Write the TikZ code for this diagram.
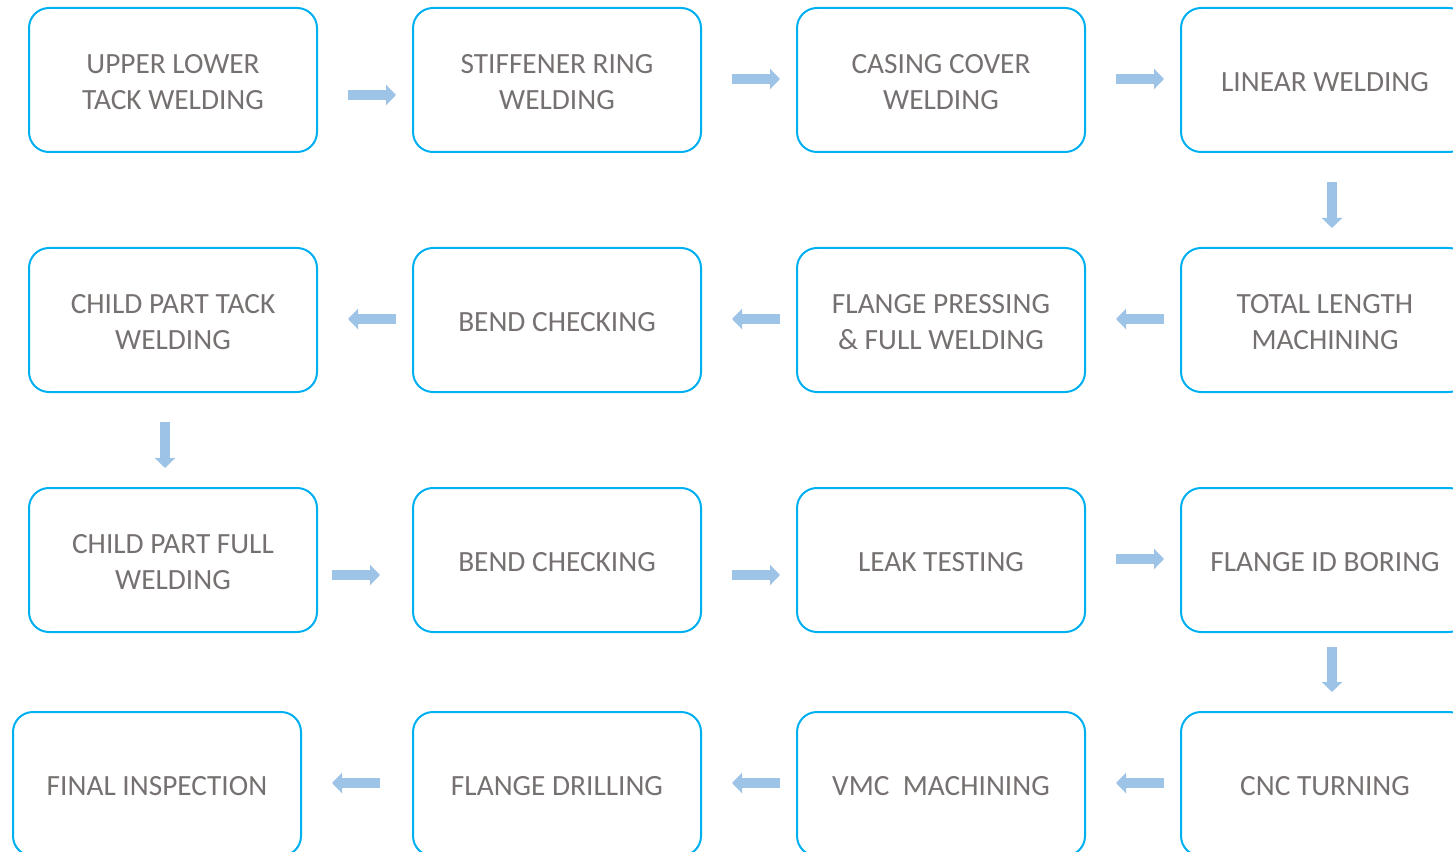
\documentclass[tikz,border=0pt]{standalone}
\usepackage{fontspec}
\setmainfont{Carlito}
\usetikzlibrary{arrows.meta}
\definecolor{boxc}{RGB}{0,176,240}
\definecolor{arrc}{RGB}{157,195,230}
\definecolor{txtc}{RGB}{118,113,113}
\tikzset{
  stepbox/.style={draw=boxc, line width=1.5pt, rounded corners=15pt,
    minimum width=216pt, minimum height=108pt, align=center,
    text=txtc, font=\fontsize{22}{27}\selectfont, inner sep=0pt},
  steptext/.style={text=txtc, font=\fontsize{22}{27}\selectfont, align=center, inner sep=0pt},
  blockarrow/.style={draw=arrc, line width=7.5pt,
    -{Triangle[width=15pt,length=7.5pt]}, shorten >=0pt}
}
\newcommand{\stepnode}[3]{%
  \node[stepbox] (#1) at #2 {};
  \node[steptext] (#1t) at ([yshift=-1.5pt]#1.center) {#3};
}
\begin{document}
\begin{tikzpicture}[x=0.75pt,y=-0.75pt]
\useasboundingbox (0,0) rectangle (1453,852);
\clip (0,0) rectangle (1453,852);
% row 1
\stepnode{n1}{(173,80)}{UPPER LOWER\\TACK WELDING}
\stepnode{n2}{(557,80)}{STIFFENER RING\\WELDING}
\stepnode{n3}{(941,80)}{CASING COVER\\WELDING}
\stepnode{n4}{(1325,80)}{LINEAR WELDING}
% row 2
\stepnode{n5}{(1325,320)}{TOTAL LENGTH\\MACHINING}
\stepnode{n6}{(941,320)}{FLANGE PRESSING\\\& FULL WELDING}
\stepnode{n7}{(557,320)}{BEND CHECKING}
\stepnode{n8}{(173,320)}{CHILD PART TACK\\WELDING}
% row 3
\stepnode{n9}{(173,560)}{CHILD PART FULL\\WELDING}
\stepnode{n10}{(557,560)}{BEND CHECKING}
\stepnode{n11}{(941,560)}{LEAK TESTING}
\stepnode{n12}{(1325,560)}{FLANGE ID BORING}
% row 4
\stepnode{n13}{(1325,784)}{CNC TURNING}
\stepnode{n14}{(941,784)}{VMC~~MACHINING}
\stepnode{n15}{(557,784)}{FLANGE DRILLING}
\stepnode{n16}{(157,784)}{FINAL INSPECTION}
% arrow end points
\coordinate (a1s) at (348,95);  \coordinate (a1e) at (396,95);
\coordinate (a2s) at (732,79);  \coordinate (a2e) at (780,79);
\coordinate (a3s) at (1116,79); \coordinate (a3e) at (1164,79);
\coordinate (a4s) at (1332,182); \coordinate (a4e) at (1332,228);
\coordinate (a5s) at (1164,319); \coordinate (a5e) at (1116,319);
\coordinate (a6s) at (780,319);  \coordinate (a6e) at (732,319);
\coordinate (a7s) at (396,319);  \coordinate (a7e) at (348,319);
\coordinate (a8s) at (165,422);  \coordinate (a8e) at (165,468);
\coordinate (a9s) at (332,575);  \coordinate (a9e) at (380,575);
\coordinate (a10s) at (732,575); \coordinate (a10e) at (780,575);
\coordinate (a11s) at (1116,559); \coordinate (a11e) at (1164,559);
\coordinate (a12s) at (1332,647); \coordinate (a12e) at (1332,692);
\coordinate (a13s) at (1164,783); \coordinate (a13e) at (1116,783);
\coordinate (a14s) at (780,783);  \coordinate (a14e) at (732,783);
\coordinate (a15s) at (380,783);  \coordinate (a15e) at (332,783);
\foreach \i in {1,...,15} {
  \draw[blockarrow] (a\i s) -- (a\i e);
}
\end{tikzpicture}
\end{document}
